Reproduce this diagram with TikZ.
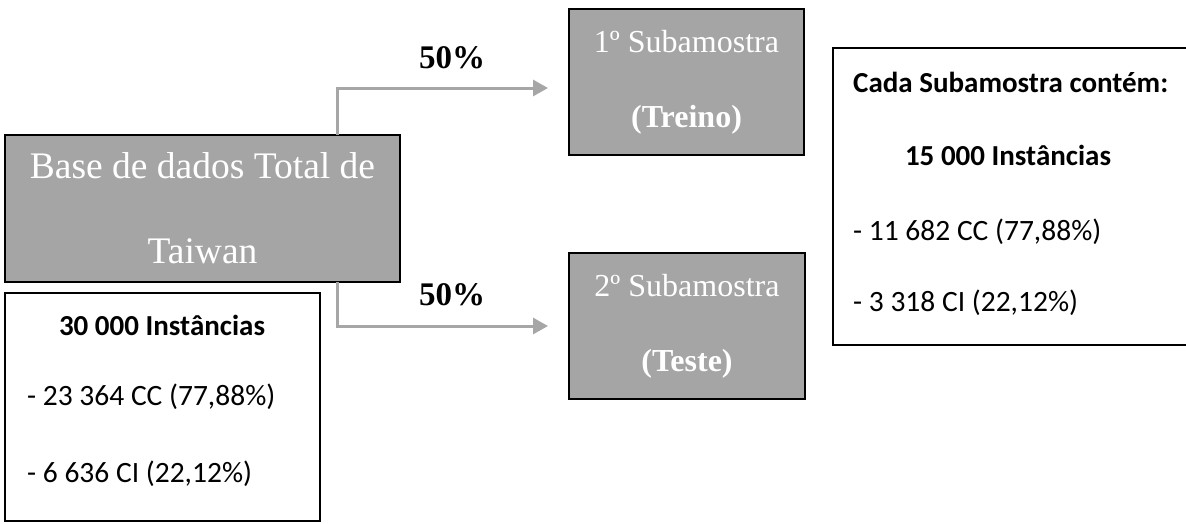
\documentclass[tikz,border=0pt]{standalone}
\usepackage{fontspec}
\setmainfont{Liberation Serif}
\newfontfamily\calibrifont{Carlito}
\usetikzlibrary{arrows.meta, positioning}
\definecolor{boxgray}{RGB}{165,165,165}
\definecolor{arrowgray}{RGB}{166,166,166}

\begin{document}
\begin{tikzpicture}[x=1pt, y=-1pt,
  graybox/.style={draw=black, line width=2.5pt, fill=boxgray, text=white,
    align=center, inner sep=0pt, outer sep=0pt},
  infobox/.style={draw=black, line width=2.5pt, inner sep=0pt, outer sep=0pt},
  pct/.style={font=\fontsize{33}{38}\selectfont\bfseries},
  infotxt/.style={font=\calibrifont\fontsize{29.5}{34}\selectfont, inner sep=0pt},
  infohead/.style={font=\calibrifont\fontsize{29}{34}\selectfont\bfseries, inner sep=0pt},
  split/.style={draw=arrowgray, line width=3pt, -{Triangle[length=15pt,width=16pt]}}
]
  \useasboundingbox (0,0) rectangle (1186,523);
  \clip (0,0) rectangle (1186,523);

  % full data set
  \node[graybox, minimum width=395pt, minimum height=147pt,
    font=\fontsize{37.5}{85}\selectfont] (base) at (202.5,208.5)
    {\raisebox{-3pt}{Base de dados Total de}\\\raisebox{-3pt}{Taiwan}};

  % the two subsamples
  \node[graybox, minimum width=235pt, minimum height=146pt,
    font=\fontsize{32}{75}\selectfont] (sub1) at (686.5,82)
    {1º Subamostra\\\textbf{(Treino)}};
  \node[graybox, minimum width=236pt, minimum height=146pt,
    font=\fontsize{32}{75}\selectfont] (sub2) at (687,326)
    {2º Subamostra\\\textbf{(Teste)}};

  % 50/50 split
  \draw[split] ([xshift=134.5pt]base.north) |- ([xshift=-21pt,yshift=-6pt]sub1.west);
  \draw[split] ([xshift=134.5pt]base.south) |- ([xshift=-21pt]sub2.west);
  \node[pct] (pct1) at (452,58) {50\%};
  \node[pct] (pct2) at (452,295) {50\%};

  % counts of the full data set
  \node[infobox, minimum width=315pt, minimum height=228pt] (inst) at (162.5,407) {};
  \node[infohead] (inst1) at (162,325) {30 000 Instâncias};
  \node[infotxt, anchor=west] (inst2) at (27,397) {- 23 364 CC (77,88\%)};
  \node[infotxt, anchor=west] (inst3) at (27,474) {- 6 636 CI (22,12\%)};

  % counts of each subsample
  \node[infobox, minimum width=363pt, minimum height=297pt] (info) at (1014.5,196.5) {};
  \node[infohead, anchor=west] (info1) at (853,82) {Cada Subamostra contém:};
  \node[infohead] (info2) at (1008,155) {15 000 Instâncias};
  \node[infotxt, anchor=west] (info3) at (853,232) {- 11 682 CC (77,88\%)};
  \node[infotxt, anchor=west] (info4) at (853,303) {- 3 318 CI (22,12\%)};
\end{tikzpicture}
\end{document}
